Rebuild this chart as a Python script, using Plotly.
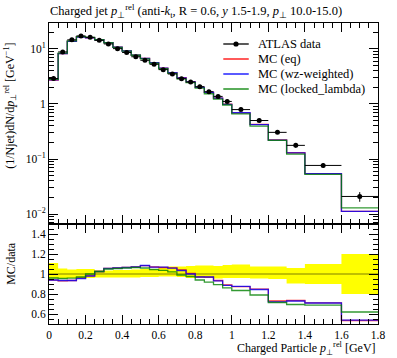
import plotly.graph_objects as go

# ---------------- data ----------------
edges = [0.0, 0.05, 0.1, 0.15, 0.2, 0.25, 0.3, 0.35, 0.4, 0.45, 0.5, 0.55, 0.6, 0.65,
         0.7, 0.75, 0.8, 0.85, 0.9, 0.95, 1.0, 1.1, 1.2, 1.3, 1.4, 1.6, 1.8]

data_vals = [2.9, 8.8, 14.6, 17.2, 16.2, 14.3, 12.3, 10.1, 8.6, 7.2, 6.2, 5.25, 4.2,
             3.5, 2.88, 2.51, 2.06, 1.67, 1.37, 1.11, 0.79, 0.50, 0.305, 0.177, 0.0765, 0.0209]

# relative data uncertainty band (upper / lower, as ratio to data)
band_up = [1.11, 1.055, 1.045, 1.05, 1.05, 1.035, 1.035, 1.04, 1.04, 1.045, 1.05, 1.05, 1.07,
           1.075, 1.075, 1.08, 1.085, 1.085, 1.08, 1.09, 1.095, 1.075, 1.075, 1.06, 1.1, 1.2]
band_lo = [0.955, 0.955, 0.96, 0.96, 0.96, 0.965, 0.965, 0.965, 0.965, 0.965, 0.97, 0.97, 0.975,
           0.975, 0.97, 0.96, 0.96, 0.96, 0.955, 0.96, 0.96, 0.955, 0.95, 0.905, 0.9, 0.8]

# MC / data ratios
ratio_eq = [0.938, 0.932, 0.935, 0.958, 0.982, 1.025, 1.057, 1.06, 1.066, 1.07, 1.083, 1.07, 1.065,
            1.062, 1.04, 1.005, 0.972, 0.968, 0.935, 0.89, 0.874, 0.848, 0.73, 0.735, 0.712, 0.535]
ratio_wz = [0.94, 0.935, 0.935, 0.955, 0.98, 1.025, 1.055, 1.06, 1.065, 1.07, 1.085, 1.068, 1.068,
            1.058, 1.035, 1.0, 0.97, 0.97, 0.932, 0.886, 0.876, 0.845, 0.722, 0.73, 0.71, 0.538]
ratio_ll = [0.96, 0.955, 0.958, 0.97, 1.0, 1.025, 1.05, 1.055, 1.06, 1.065, 1.06, 1.045, 1.037,
            1.022, 0.99, 0.975, 0.94, 0.918, 0.893, 0.862, 0.835, 0.79, 0.715, 0.695, 0.688, 0.62]

title_text = ("Charged jet <i>p</i><sub>⊥</sub><sup>rel</sup> (anti-<i>k</i><sub>t</sub>, R = 0.6, "
              "<i>y</i> 1.5-1.9, <i>p</i><sub>⊥</sub> 10.0-15.0)")
legend_names = ["ATLAS data", "MC (eq)", "MC (wz-weighted)", "MC (locked_lambda)"]
series_names = legend_names[1:]
series_colors = ["#ff0000", "#0000ff", "#008000"]

# ---------------- derived ----------------
centers = [(a + b) / 2 for a, b in zip(edges[:-1], edges[1:])]
halfw = [(b - a) / 2 for a, b in zip(edges[:-1], edges[1:])]
err_up = [d * (u - 1) for d, u in zip(data_vals, band_up)]
err_lo = [d * (1 - l) for d, l in zip(data_vals, band_lo)]

FONT = "Liberation Serif"
W, H = 397, 358
L, R, T, B = 49, 12, 23, 34
PW, PH = W - L - R, H - T - B

fig = go.Figure()


def step(vals):
    return list(vals) + [vals[-1]]


# ratio band
fig.add_trace(go.Scatter(x=edges, y=step(band_up), mode="lines", line=dict(width=0, shape="hv"),
                         xaxis="x2", yaxis="y2", showlegend=False, hoverinfo="skip"))
fig.add_trace(go.Scatter(x=edges, y=step(band_lo), mode="lines", line=dict(width=0, shape="hv"),
                         fill="tonexty", fillcolor="#ffff00",
                         xaxis="x2", yaxis="y2", showlegend=False, hoverinfo="skip"))
fig.add_trace(go.Scatter(x=[edges[0], edges[-1]], y=[1, 1], mode="lines",
                         line=dict(color="rgba(60,60,0,0.65)", width=1),
                         xaxis="x2", yaxis="y2", showlegend=False, hoverinfo="skip"))

ratios = [ratio_eq, ratio_wz, ratio_ll]
for name, col, r in zip(series_names, series_colors, ratios):
    mc = [d * q for d, q in zip(data_vals, r)]
    fig.add_trace(go.Scatter(x=edges, y=step(mc), mode="lines", name=name, showlegend=False,
                             line=dict(color=col, width=1.3, shape="hv"), opacity=0.8,
                             xaxis="x", yaxis="y"))
    fig.add_trace(go.Scatter(x=edges, y=step(r), mode="lines", showlegend=False,
                             line=dict(color=col, width=1.3, shape="hv"), opacity=0.8,
                             xaxis="x2", yaxis="y2"))

# data points
fig.add_trace(go.Scatter(x=centers, y=data_vals, mode="markers", name="ATLAS data",
                         showlegend=False, marker=dict(color="black", size=5),
                         error_x=dict(type="data", array=halfw, color="black", thickness=1, width=0),
                         error_y=dict(type="data", array=err_up, arrayminus=err_lo,
                                      color="black", thickness=1, width=0),
                         xaxis="x", yaxis="y"))

split = 100 / PH
axis_common = dict(showline=True, linecolor="black", linewidth=1, mirror="allticks",
                   ticks="inside", tickcolor="black", showgrid=False, zeroline=False,
                   tickfont=dict(family=FONT, size=11.5, color="black"))


def px_x(px):
    return (px - L) / PW


def px_y(py):
    return (H - B - py) / PH


# manual legend (paper coordinates)
shapes = []
annotations = []
leg_rows = [44, 59, 74, 89]
leg_colors = ["black"] + series_colors
for name, col, py in zip(legend_names, leg_colors, leg_rows):
    shapes.append(dict(type="line", xref="paper", yref="paper", x0=px_x(227), x1=px_x(253),
                       y0=px_y(py), y1=px_y(py), line=dict(color=col, width=1.3)))
    annotations.append(dict(text=name, x=px_x(260), y=px_y(py), xref="paper", yref="paper",
                            xanchor="left", yanchor="middle", showarrow=False,
                            font=dict(family=FONT, size=12.5, color="black")))
shapes.append(dict(type="circle", xref="paper", yref="paper", xsizemode="pixel",
                   ysizemode="pixel", xanchor=px_x(240), yanchor=px_y(leg_rows[0]),
                   x0=-2.6, x1=2.6, y0=-2.6, y1=2.6, fillcolor="black",
                   line=dict(color="black", width=0)))

annotations += [
    dict(text="(1/Njet)dN/d<i>p</i><sub>⊥</sub><sup>rel</sup> [GeV<sup>−1</sup>]",
         textangle=-90, x=px_x(9), xref="paper", y=px_y(106), yref="paper",
         xanchor="center", yanchor="middle", showarrow=False,
         font=dict(family=FONT, size=12, color="black")),
    dict(text="MC/data", textangle=-90, x=px_x(10), xref="paper",
         y=px_y(263), yref="paper", xanchor="center", yanchor="middle",
         showarrow=False, font=dict(family=FONT, size=12, color="black")),
    dict(text="Charged Particle <i>p</i><sub>⊥</sub><sup>rel</sup> [GeV]",
         x=1, xref="paper", xanchor="right", y=px_y(348), yref="paper",
         yanchor="middle", showarrow=False,
         font=dict(family=FONT, size=12, color="black")),
]

fig.update_layout(
    width=W, height=H,
    margin=dict(l=L, r=R, t=T, b=B),
    paper_bgcolor="white", plot_bgcolor="white",
    showlegend=False, hovermode=False,
    title=dict(text=title_text, x=50 / W, xref="container", xanchor="left",
               y=1 - 11 / H, yref="container", yanchor="middle",
               font=dict(family=FONT, size=12.5, color="black")),
    xaxis=dict(domain=[0, 1], range=[0, 1.8], anchor="y", matches="x2", showticklabels=False,
               dtick=0.2, tick0=0, ticklen=9,
               minor=dict(dtick=0.05, ticklen=5, ticks="inside", tickcolor="black"),
               **axis_common),
    yaxis=dict(domain=[split, 1], type="log", range=[-2.18, 1.47], anchor="x",
               tickvals=[0.01, 0.1, 1, 10],
               ticktext=["10<sup>−2</sup>", "10<sup>−1</sup>", "1", "10<sup>1</sup>"],
               ticklen=9,
               minor=dict(dtick="D1", ticklen=5, ticks="inside", tickcolor="black"),
               **axis_common),
    xaxis2=dict(domain=[0, 1], range=[0, 1.8], anchor="y2", dtick=0.2, tick0=0, ticklen=9,
                minor=dict(dtick=0.05, ticklen=5, ticks="inside", tickcolor="black"),
                **axis_common),
    yaxis2=dict(domain=[0, split], range=[0.5, 1.5], anchor="x2",
                tickvals=[0.6, 0.8, 1.0, 1.2, 1.4], ticktext=["0.6", "0.8", "1", "1.2", "1.4"],
                ticklen=9,
                minor=dict(dtick=0.05, tick0=0, ticklen=5, ticks="inside", tickcolor="black"),
                **axis_common),
    shapes=shapes,
    annotations=annotations,
)

fig.write_html("out.html", config={"displayModeBar": False},
               post_script="document.body.style.margin='0px';")
